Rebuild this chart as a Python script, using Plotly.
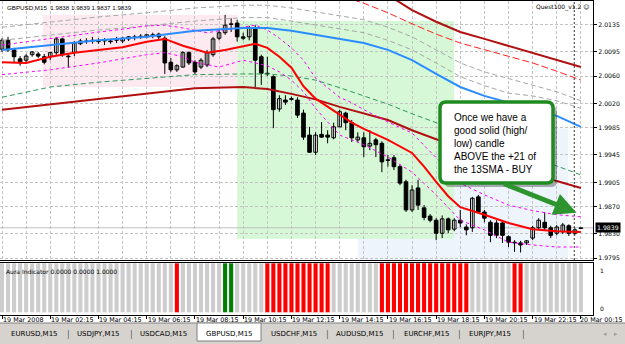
import plotly.graph_objects as go

W, H = 625, 344

# ---------------- data ----------------
BAR_INDEX = list(range(97))
OPEN = [2.0099, 2.0112, 2.0098, 2.0085, 2.0083, 2.0091, 2.0092, 2.0088, 2.0088, 2.0094,
        2.0114, 2.0089, 2.0094, 2.0107, 2.0111, 2.0112, 2.0110, 2.0111, 2.0111, 2.0112,
        2.0111, 2.0117, 2.0116, 2.0118, 2.0117, 2.0120, 2.0121, 2.0115, 2.0080, 2.0069,
        2.0073, 2.0094, 2.0080, 2.0073, 2.0076, 2.0091, 2.0115, 2.0123, 2.0135, 2.0137,
        2.0117, 2.0117, 2.0130, 2.0088, 2.0064, 2.0059, 2.0012, 2.0025, 2.0027, 2.0025,
        2.0006, 1.9974, 1.9949, 1.9975, 1.9974, 1.9970, 1.9986, 2.0006, 1.9992, 1.9967,
        1.9970, 1.9958, 1.9967, 1.9962, 1.9938, 1.9941, 1.9928, 1.9906, 1.9865, 1.9897,
        1.9868, 1.9856, 1.9850, 1.9831, 1.9852, 1.9837, 1.9850, 1.9840, 1.9839, 1.9884,
        1.9862, 1.9847, 1.9846, 1.9846, 1.9826, 1.9818, 1.9817, 1.9817, 1.9824, 1.9839,
        1.9847, 1.9839, 1.9831, 1.9833, 1.9842, 1.9831, 1.9838]
HIGH = [2.0115, 2.0117, 2.0101, 2.0089, 2.0092, 2.0096, 2.0095, 2.0092, 2.0095, 2.0117,
        2.0115, 2.0091, 2.0111, 2.0114, 2.0115, 2.0117, 2.0115, 2.0115, 2.0114, 2.0117,
        2.0117, 2.0118, 2.0120, 2.0121, 2.0121, 2.0123, 2.0123, 2.0118, 2.0086, 2.0077,
        2.0096, 2.0096, 2.0083, 2.0086, 2.0098, 2.0117, 2.0127, 2.0149, 2.0144, 2.0142,
        2.0123, 2.0133, 2.0134, 2.0091, 2.0088, 2.0061, 2.0032, 2.0032, 2.0030, 2.0029,
        2.0011, 1.9986, 1.9978, 1.9993, 1.9981, 1.9992, 2.0011, 2.0008, 1.9996, 1.9978,
        1.9978, 1.9981, 1.9970, 1.9965, 1.9945, 1.9945, 1.9931, 1.9909, 1.9901, 1.9909,
        1.9872, 1.9859, 1.9853, 1.9857, 1.9854, 1.9853, 1.9865, 1.9844, 1.9884, 1.9887,
        1.9865, 1.9850, 1.9850, 1.9849, 1.9828, 1.9821, 1.9820, 1.9821, 1.9842, 1.9853,
        1.9862, 1.9842, 1.9843, 1.9846, 1.9844, 1.9839, 1.9839]
LOW = [2.0095, 2.0095, 2.0080, 2.0075, 2.0080, 2.0088, 2.0086, 2.0077, 2.0083, 2.0091,
       2.0088, 2.0072, 2.0089, 2.0105, 2.0107, 2.0107, 2.0107, 2.0105, 2.0107, 2.0108,
       2.0108, 2.0111, 2.0112, 2.0114, 2.0115, 2.0115, 2.0114, 2.0063, 2.0066, 2.0066,
       2.0072, 2.0076, 2.0063, 2.0070, 2.0073, 2.0088, 2.0112, 2.0120, 2.0124, 2.0110,
       2.0112, 2.0112, 2.0044, 2.0047, 2.0060, 1.9984, 2.0008, 2.0018, 2.0024, 1.9999,
       1.9967, 1.9948, 1.9945, 1.9970, 1.9962, 1.9968, 1.9986, 1.9981, 1.9964, 1.9964,
       1.9942, 1.9952, 1.9942, 1.9920, 1.9928, 1.9923, 1.9901, 1.9862, 1.9862, 1.9865,
       1.9850, 1.9847, 1.9821, 1.9824, 1.9831, 1.9834, 1.9840, 1.9828, 1.9833, 1.9860,
       1.9847, 1.9818, 1.9824, 1.9817, 1.9811, 1.9804, 1.9803, 1.9814, 1.9821, 1.9836,
       1.9836, 1.9824, 1.9828, 1.9830, 1.9827, 1.9828, 1.9837]
CLOSE = [2.0112, 2.0098, 2.0088, 2.0079, 2.0089, 2.0095, 2.0089, 2.0080, 2.0094, 2.0114,
         2.0091, 2.0088, 2.0108, 2.0111, 2.0110, 2.0111, 2.0111, 2.0112, 2.0110, 2.0114,
         2.0115, 2.0114, 2.0117, 2.0117, 2.0120, 2.0119, 2.0117, 2.0079, 2.0069, 2.0075,
         2.0094, 2.0079, 2.0066, 2.0083, 2.0094, 2.0114, 2.0123, 2.0134, 2.0136, 2.0117,
         2.0115, 2.0130, 2.0083, 2.0064, 2.0063, 2.0011, 2.0027, 2.0022, 2.0026, 2.0003,
         1.9971, 1.9949, 1.9974, 1.9971, 1.9971, 1.9986, 2.0008, 1.9992, 1.9970, 1.9971,
         1.9957, 1.9962, 1.9960, 1.9935, 1.9937, 1.9928, 1.9904, 1.9865, 1.9894, 1.9872,
         1.9854, 1.9850, 1.9831, 1.9852, 1.9836, 1.9850, 1.9846, 1.9836, 1.9882, 1.9862,
         1.9853, 1.9828, 1.9828, 1.9828, 1.9818, 1.9817, 1.9814, 1.9820, 1.9839, 1.9850,
         1.9839, 1.9828, 1.9840, 1.9843, 1.9831, 1.9836, 1.9839]

# indicator lines (bar index, price)
BLUE_IDX = [0, 8, 16, 24, 32, 40, 44, 48, 52, 56, 60, 64, 68, 72, 76, 80, 84, 88, 92, 96]
BLUE_VAL = [2.0098, 2.0105, 2.0112, 2.0117, 2.0126, 2.0130, 2.0130, 2.0126, 2.0120, 2.0114,
            2.0108, 2.0098, 2.0083, 2.0063, 2.0044, 2.0031, 2.0021, 2.0012, 2.0002, 1.9986]
SMA13_IDX = [0, 4, 8, 12, 16, 20, 24, 27, 30, 34, 37, 40, 42, 44, 46, 48, 50, 52, 54, 56,
             58, 60, 64, 68, 70, 72, 74, 76, 78, 80, 84, 88, 92, 96]
SMA13_VAL = [2.0080, 2.0079, 2.0088, 2.0094, 2.0098, 2.0102, 2.0110, 2.0114, 2.0104, 2.0094,
             2.0098, 2.0104, 2.0107, 2.0101, 2.0088, 2.0072, 2.0045, 2.0027, 2.0015, 2.0003,
             1.9992, 1.9983, 1.9967, 1.9948, 1.9928, 1.9906, 1.9885, 1.9869, 1.9864, 1.9858,
             1.9846, 1.9837, 1.9834, 1.9833]
SLOW_IDX = [0, 8, 16, 24, 32, 40, 44, 48, 52, 56, 60, 64, 68, 72, 76, 80, 84, 88, 92, 96]
SLOW_VAL = [2.0011, 2.0019, 2.0027, 2.0035, 2.0042, 2.0044, 2.0041, 2.0034, 2.0026, 2.0015,
            2.0005, 1.9996, 1.9981, 1.9968, 1.9957, 1.9945, 1.9932, 1.9919, 1.9907, 1.9897]
SLOW_UP_IDX = [60, 64, 68, 72, 76, 80, 84, 88, 92, 96]
SLOW_UP_VAL = [2.0200, 2.0178, 2.0156, 2.0139, 2.0124, 2.0114, 2.0104, 2.0094, 2.0083, 2.0073]
RED_DASH_IDX = [52, 56, 60, 64, 68, 72, 76, 80, 84, 88, 92, 96]
RED_DASH_VAL = [2.0191, 2.0177, 2.0166, 2.0152, 2.0136, 2.0121, 2.0108, 2.0098, 2.0089, 2.0079,
                2.0067, 2.0054]
GREEN_IDX = [0, 8, 16, 24, 32, 40, 44, 48, 52, 56, 60, 64, 68, 72, 76, 80, 84, 88, 92, 96]
GREEN_VAL = [2.0029, 2.0044, 2.0051, 2.0057, 2.0062, 2.0063, 2.0063, 2.0060, 2.0054, 2.0043,
             2.0031, 2.0019, 2.0005, 1.9992, 1.9977, 1.9964, 1.9954, 1.9942, 1.9929, 1.9916]
GRAY_A_IDX = [0, 8, 16, 24, 32, 40, 44, 48, 52, 56, 60, 64, 68, 72, 76, 80, 84, 88, 92, 96]
GRAY_A_VAL = [2.0112, 2.0120, 2.0127, 2.0133, 2.0140, 2.0145, 2.0145, 2.0140, 2.0134, 2.0128,
              2.0123, 2.0112, 2.0098, 2.0079, 2.0059, 2.0046, 2.0035, 2.0031, 2.0024, 2.0013]
GRAY_B_IDX = [0, 8, 16, 24, 32, 40, 44, 48, 52, 56, 60, 64, 68, 72, 76, 80, 84, 88, 92, 96]
GRAY_B_VAL = [2.0131, 2.0139, 2.0146, 2.0152, 2.0159, 2.0163, 2.0163, 2.0159, 2.0153, 2.0147,
              2.0142, 2.0131, 2.0117, 2.0098, 2.0079, 2.0066, 2.0056, 2.0047, 2.0037, 2.0024]
MAG_UP_IDX = [0, 8, 16, 20, 24, 27, 30, 34, 37, 40, 42, 44, 46, 48, 50, 52, 54, 56, 58, 60,
              64, 68, 72, 76, 80, 84, 88, 92, 96]
MAG_UP_VAL = [2.0105, 2.0115, 2.0124, 2.0128, 2.0133, 2.0134, 2.0130, 2.0123, 2.0127, 2.0131,
              2.0134, 2.0127, 2.0115, 2.0101, 2.0083, 2.0057, 2.0043, 2.0029, 2.0021, 2.0011,
              1.9993, 1.9977, 1.9941, 1.9904, 1.9887, 1.9872, 1.9864, 1.9858, 1.9855]
MAG_DN_IDX = [0, 8, 16, 24, 27, 30, 32, 36, 40, 44, 46, 48, 50, 52, 54, 56, 58, 60, 64, 68,
              72, 76, 80, 84, 88, 92, 96]
MAG_DN_VAL = [2.0062, 2.0069, 2.0079, 2.0091, 2.0094, 2.0088, 2.0080, 2.0073, 2.0083, 2.0075,
              2.0066, 2.0054, 2.0037, 2.0013, 1.9993, 1.9974, 1.9967, 1.9960, 1.9942, 1.9920,
              1.9887, 1.9850, 1.9836, 1.9818, 1.9814, 1.9811, 1.9811]

# Aura indicator: 0 = neutral (grey), 1 = red, 2 = green
AURA_SIGNAL = [0, 0, 0, 0, 0, 0, 0, 0, 0, 0, 0, 0, 0, 0, 0, 0, 0, 0, 0, 0,
               0, 0, 0, 0, 0, 0, 0, 0, 0, 1, 0, 0, 0, 0, 0, 0, 0, 2, 2, 0,
               0, 0, 0, 0, 1, 1, 1, 1, 1, 1, 1, 1, 1, 1, 1, 0, 0, 0, 0, 0,
               0, 0, 0, 1, 1, 1, 1, 1, 1, 1, 1, 1, 1, 1, 1, 1, 1, 1, 0, 0,
               0, 0, 0, 0, 0, 1, 1, 0, 0, 0, 0, 0, 0, 0, 0, 0, 0]
AURA_VALUE = [1.0] * 97

TIME_TICK_BARS = [0, 8, 16, 24, 32, 40, 48, 56, 64, 72, 80, 88, 96]
TIME_LABELS = ["19 Mar 2008", "19 Mar 02:15", "19 Mar 04:15", "19 Mar 06:15", "19 Mar 08:15",
               "19 Mar 10:15", "19 Mar 12:15", "19 Mar 14:15", "19 Mar 16:15", "19 Mar 18:15",
               "19 Mar 20:15", "19 Mar 22:15", "20 Mar 00:15"]
PRICE_TICKS = [1.9795, 1.9830, 1.9870, 1.9905, 1.9945, 1.9985, 2.0020, 2.0060, 2.0095, 2.0135]
PRICE_LABELS = ["1.9795", "1.9830", "1.9870", "1.9905", "1.9945", "1.9985", "2.0020",
                "2.0060", "2.0095", "2.0135"]
LAST_PRICE = 1.9839
TABS = ["EURUSD,M15", "USDJPY,M15", "USDCAD,M15", "GBPUSD,M15", "USDCHF,M15",
        "AUDUSD,M15", "EURCHF,M15", "EURJPY,M15"]

# ---------------- helpers (layout only) ----------------
def pxx(x):
    return x / W


def pxy(y):
    return 1 - y / H


FONT = "DejaVu Sans"
X_RANGE = [-0.332, 98.01]
Y_RANGE = [1.97921, 2.01692]

fig = go.Figure()

# candle wicks
wx, wy = [], []
for i, h, l in zip(BAR_INDEX, HIGH, LOW):
    wx += [i, i, None]
    wy += [l, h, None]
fig.add_trace(go.Scatter(x=wx, y=wy, mode="lines", line=dict(color="black", width=1),
                         hoverinfo="skip", xaxis="x", yaxis="y"))


def add_line(xs, ys, color, width, dash="solid"):
    fig.add_trace(go.Scatter(x=xs, y=ys, mode="lines", line=dict(color=color, width=width, dash=dash),
                             hoverinfo="skip", xaxis="x", yaxis="y"))


add_line(GRAY_B_IDX, GRAY_B_VAL, "#a8a8a8", 1, "5px,3px")
add_line(GRAY_A_IDX, GRAY_A_VAL, "#a8a8a8", 1, "5px,3px")
add_line(GREEN_IDX, GREEN_VAL, "#2e9a5a", 1, "5px,3px")
add_line(RED_DASH_IDX, RED_DASH_VAL, "#ff2020", 1, "7px,3px")
add_line(SLOW_UP_IDX, SLOW_UP_VAL, "#b01010", 2)
add_line(SLOW_IDX, SLOW_VAL, "#b01010", 2)
add_line(MAG_UP_IDX, MAG_UP_VAL, "#ff00ff", 1, "3px,3px")
add_line(MAG_DN_IDX, MAG_DN_VAL, "#ff00ff", 1, "3px,3px")
add_line(BLUE_IDX, BLUE_VAL, "#2a8cff", 2)
add_line(SMA13_IDX, SMA13_VAL, "#ff0000", 2)

# candle bodies
bases = [min(o, c) for o, c in zip(OPEN, CLOSE)]
heights = [max(abs(c - o), 0.00008) for o, c in zip(OPEN, CLOSE)]
fills = ["white" if c >= o else "black" for o, c in zip(OPEN, CLOSE)]
fig.add_trace(go.Bar(x=BAR_INDEX, y=heights, base=bases, width=0.6,
                     marker=dict(color=fills, line=dict(color="black", width=1)),
                     hoverinfo="skip", xaxis="x", yaxis="y"))

# Aura histogram
aura_colors = {0: "#cdcdcd", 1: "#ff0000", 2: "#008000"}
fig.add_trace(go.Bar(x=BAR_INDEX, y=AURA_VALUE, width=0.68,
                     marker=dict(color=[aura_colors[s] for s in AURA_SIGNAL], line=dict(width=0)),
                     hoverinfo="skip", xaxis="x2", yaxis="y2"))

grid = dict(showgrid=True, gridcolor="#c4c4c4", griddash="3px,2px", gridwidth=1)
fig.update_layout(
    width=W, height=H, margin=dict(l=0, r=0, t=0, b=0, autoexpand=False), autosize=False,
    paper_bgcolor="white", plot_bgcolor="white", showlegend=False, hovermode=False,
    barmode="overlay",
    xaxis=dict(domain=[0, pxx(593)], range=X_RANGE, anchor="y", tickvals=list(range(0, 97, 4)),
               showticklabels=False, ticks="", zeroline=False, showline=True, linecolor="black",
               mirror=True, automargin=False, **grid),
    yaxis=dict(domain=[pxy(260), pxy(1)], range=Y_RANGE, anchor="x", side="right",
               tickvals=PRICE_TICKS, ticktext=PRICE_LABELS, ticks="outside", ticklen=3,
               tickcolor="black", tickfont=dict(family=FONT, size=6.2, color="black"),
               zeroline=False, showline=True, linecolor="black", mirror=True,
               automargin=False, **grid),
    xaxis2=dict(domain=[0, pxx(593)], range=X_RANGE, anchor="y2", tickvals=TIME_TICK_BARS,
                showticklabels=False, ticks="outside", ticklen=3, tickcolor="black",
                showgrid=False, zeroline=False, showline=True, linecolor="black", mirror=True,
                automargin=False),
    yaxis2=dict(domain=[pxy(315), pxy(263)], range=[-0.055, 1.006], anchor="x2",
                showticklabels=False, ticks="", showgrid=False, zeroline=False,
                showline=True, linecolor="black", mirror=True, automargin=False),
)

shapes = []
# background zones (time / price rectangles)
shapes.append(dict(type="rect", xref="x", yref="y", x0=59.0, x1=93.9, y0=1.9792, y1=1.9984,
                   fillcolor="#edf4fc", line=dict(width=0), layer="below"))
shapes.append(dict(type="rect", xref="x", yref="y", x0=6.8, x1=39.0, y0=2.0044, y1=2.0149,
                   fillcolor="#fdeaf0", line=dict(width=0), layer="below"))
shapes.append(dict(type="rect", xref="x", yref="y", x0=39.0, x1=75.0, y0=1.9823, y1=2.0140,
                   fillcolor="#d6f8d6", line=dict(width=0), layer="below"))
# bid line
shapes.append(dict(type="line", xref="x", yref="y", x0=X_RANGE[0], x1=X_RANGE[1],
                   y0=LAST_PRICE, y1=LAST_PRICE, line=dict(color="#c0c0c0", width=1), layer="below"))
# vertical dotted line
shapes.append(dict(type="line", xref="x", yref="paper", x0=94.9, x1=94.9, y0=pxy(260), y1=pxy(1),
                   line=dict(color="#303030", width=1, dash="2px,2px"), layer="above"))


def rounded(x0, y0, x1, y1, r):
    rx, ry = r / W, r / H
    X0, X1 = pxx(x0), pxx(x1)
    Y0, Y1 = pxy(y0), pxy(y1)
    return (f"M {X0 + rx},{Y0} L {X1 - rx},{Y0} Q {X1},{Y0} {X1},{Y0 - ry} "
            f"L {X1},{Y1 + ry} Q {X1},{Y1} {X1 - rx},{Y1} L {X0 + rx},{Y1} "
            f"Q {X0},{Y1} {X0},{Y1 + ry} L {X0},{Y0 - ry} Q {X0},{Y0} {X0 + rx},{Y0} Z")


# callout shadow + box
shapes.append(dict(type="path", xref="paper", yref="paper", path=rounded(444, 106, 557, 187, 6),
                   fillcolor="rgba(0,0,0,0.30)", line=dict(width=0), layer="above"))
shapes.append(dict(type="path", xref="paper", yref="paper", path=rounded(440, 102, 553, 183, 6),
                   fillcolor="white", line=dict(color="#1f8a1f", width=3.5), layer="above"))

# tab bar
shapes.append(dict(type="rect", xref="paper", yref="paper", x0=0, x1=1, y0=0, y1=pxy(323),
                   fillcolor="#d6d3ce", line=dict(width=0), layer="below"))
shapes.append(dict(type="line", xref="paper", yref="paper", x0=0, x1=1, y0=pxy(323), y1=pxy(323),
                   line=dict(color="#808080", width=1), layer="below"))
shapes.append(dict(type="rect", xref="paper", yref="paper", x0=pxx(197), x1=pxx(261),
                   y0=pxy(341), y1=pxy(323), fillcolor="white",
                   line=dict(color="#808080", width=1), layer="below"))
fig.update_layout(shapes=shapes)

ann = []
small = dict(family=FONT, size=6, color="black")
ann.append(dict(xref="paper", yref="paper", x=pxx(5), y=pxy(7), xanchor="left", yanchor="middle",
                text="GBPUSD,M15  1.9838 1.9839 1.9837 1.9839", showarrow=False,
                font=dict(family="Liberation Sans", size=6.2, color="black")))
ann.append(dict(xref="paper", yref="paper", x=pxx(591), y=pxy(7), xanchor="right", yanchor="middle",
                text="Quest100_v1.2 \u263a", showarrow=False, font=small))
ann.append(dict(xref="paper", yref="paper", x=pxx(4), y=pxy(271), xanchor="left", yanchor="middle",
                text="Aura Indicator 0.0000 0.0000 1.0000", showarrow=False, font=small))
ann.append(dict(xref="paper", yref="paper", x=pxx(598), y=pxy(270), xanchor="left", yanchor="middle",
                text="1", showarrow=False, font=small))
ann.append(dict(xref="paper", yref="paper", x=pxx(598), y=pxy(308), xanchor="left", yanchor="middle",
                text="0", showarrow=False, font=small))
ann.append(dict(xref="paper", yref="y", x=pxx(595), y=LAST_PRICE, xanchor="left", yanchor="middle",
                text="%.4f" % LAST_PRICE, showarrow=False, bgcolor="black", borderpad=1,
                font=dict(family=FONT, size=6.2, color="white")))
# time labels, left-aligned at their tick like the terminal does
for b, lab in zip(TIME_TICK_BARS, TIME_LABELS):
    ann.append(dict(xref="x2", yref="paper", x=b, y=pxy(320), xanchor="left", yanchor="middle",
                    xshift=-3 if b == TIME_TICK_BARS[-1] else -1, text=lab, showarrow=False,
                    font=dict(family=FONT, size=6.4, color="black")))
ann.append(dict(xref="paper", yref="paper", x=pxx(452), y=pxy(143.5), xanchor="left",
                yanchor="middle", align="left", showarrow=False,
                text="Once we have a<br>good solid (high/<br>low) candle<br>ABOVE the +21 of<br>the 13SMA - BUY",
                font=dict(family="Liberation Sans", size=10, color="black")))
ann.append(dict(xref="x", yref="y", axref="x", ayref="y", x=95.3, y=1.9861, ax=83.0, ay=1.9904,
                showarrow=True, arrowhead=2, arrowsize=0.9, arrowwidth=5, arrowcolor="#2e952e",
                text=""))
# tabs
tab_x = [9, 75, 138, 204, 269, 334, 402, 467]
for name, x in zip(TABS, tab_x):
    ann.append(dict(xref="paper", yref="paper", x=pxx(x), y=pxy(334), xanchor="left",
                    yanchor="middle", text=name, showarrow=False,
                    font=dict(family=FONT, size=7, color="black")))
for x in [68, 131, 327, 393, 459, 523]:
    ann.append(dict(xref="paper", yref="paper", x=pxx(x), y=pxy(334), xanchor="center",
                    yanchor="middle", text="|", showarrow=False,
                    font=dict(family=FONT, size=8, color="#555555")))
ann.append(dict(xref="paper", yref="paper", x=pxx(605), y=pxy(334), xanchor="center",
                yanchor="middle", text="\u25c2", showarrow=False,
                font=dict(family=FONT, size=7, color="#a0a0a0")))
ann.append(dict(xref="paper", yref="paper", x=pxx(616), y=pxy(334), xanchor="center",
                yanchor="middle", text="\u25b8", showarrow=False,
                font=dict(family=FONT, size=7, color="#a0a0a0")))
fig.update_layout(annotations=ann)

fig.write_html("out.html")
